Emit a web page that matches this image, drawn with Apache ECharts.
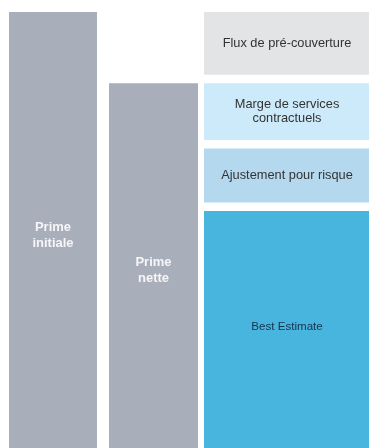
<!DOCTYPE html>
<html>
<head>
<meta charset="utf-8">
<script src="https://cdn.jsdelivr.net/npm/echarts@6/dist/echarts.min.js"></script>
<style>
html,body{margin:0;padding:0;background:#fff;}
#chart{width:369px;height:448px;}
</style>
</head>
<body>
<div id="chart"></div>
<script>
// Data
const barLabels = ['Prime\ninitiale', 'Prime\nnette'];
const barValues = [100, 84.0];
const stackLabels = ['Best Estimate', 'Ajustement pour risque', 'Marge de services\ncontractuels', 'Flux de pré-couverture'];
const stackValues = [55.4, 14.0, 14.6, 16.0];

// Styles
const grayColor = '#a9aebb';
const stackColors = ['#48b5df', '#b4d8ee', '#cdeafa', '#e3e4e6'];
const stackTextColors = ['#17324d', '#333333', '#333333', '#333333'];
const stackTextSizes = [11.6, 12.8, 12.8, 12.8];
const stackTextOffsets = [-8, 0, 0, 0];
const GAP = 8.5;
const FONT = 'Liberation Sans, Arial, sans-serif';

const chart = echarts.init(document.getElementById('chart'), null, {renderer: 'canvas'});

let cum = 0;
const stackData = stackValues.map((v, i) => {
  const base = cum;
  cum += v;
  return {value: [0, base, cum], name: stackLabels[i]};
});

const gridCommon = {top: 12, height: 446, containLabel: false, outerBoundsMode: 'none'};
const xAx = (gi) => ({type: 'category', gridIndex: gi, data: ['a'], show: false, boundaryGap: true});
const yAx = (gi) => ({type: 'value', gridIndex: gi, min: 0, max: 100, show: false, splitLine: {show: false}});

const barLabel = {
  show: true, position: 'inside', color: '#f6f6f8', fontWeight: 'bold',
  fontSize: 13, lineHeight: 16, fontFamily: FONT
};

chart.setOption({
  animation: false,
  grid: [
    Object.assign({left: 9, width: 88}, gridCommon),
    Object.assign({left: 109, width: 89}, gridCommon),
    Object.assign({left: 204, width: 166}, gridCommon)
  ],
  xAxis: [xAx(0), xAx(1), xAx(2)],
  yAxis: [yAx(0), yAx(1), yAx(2)],
  series: [
    {
      type: 'bar', xAxisIndex: 0, yAxisIndex: 0, barWidth: '100%',
      data: [barValues[0]], itemStyle: {color: grayColor},
      label: Object.assign({formatter: barLabels[0]}, barLabel)
    },
    {
      type: 'bar', xAxisIndex: 1, yAxisIndex: 1, barWidth: '100%',
      data: [barValues[1]], itemStyle: {color: grayColor},
      label: Object.assign({formatter: barLabels[1]}, barLabel)
    },
    {
      type: 'custom', xAxisIndex: 2, yAxisIndex: 2,
      encode: {x: 0, y: [1, 2]},
      data: stackData,
      renderItem: function (params, api) {
        const i = params.dataIndex;
        const pTop = api.coord([api.value(0), api.value(2)]);
        const pBase = api.coord([api.value(0), api.value(1)]);
        const bw = api.size([1, 0])[0];
        const x = pTop[0] - bw / 2;
        const y = pTop[1];
        const h = pBase[1] - pTop[1] - (i > 0 ? GAP : 0);
        return {
          type: 'rect',
          shape: {x: x, y: y, width: bw, height: h},
          style: {fill: stackColors[i]},
          textContent: {
            style: {
              text: stackLabels[i], fill: stackTextColors[i], fontSize: stackTextSizes[i],
              fontFamily: FONT, align: 'center', lineHeight: 14
            }
          },
          textConfig: {position: 'inside', offset: [0, stackTextOffsets[i]]}
        };
      }
    }
  ]
});
</script>
</body>
</html>
